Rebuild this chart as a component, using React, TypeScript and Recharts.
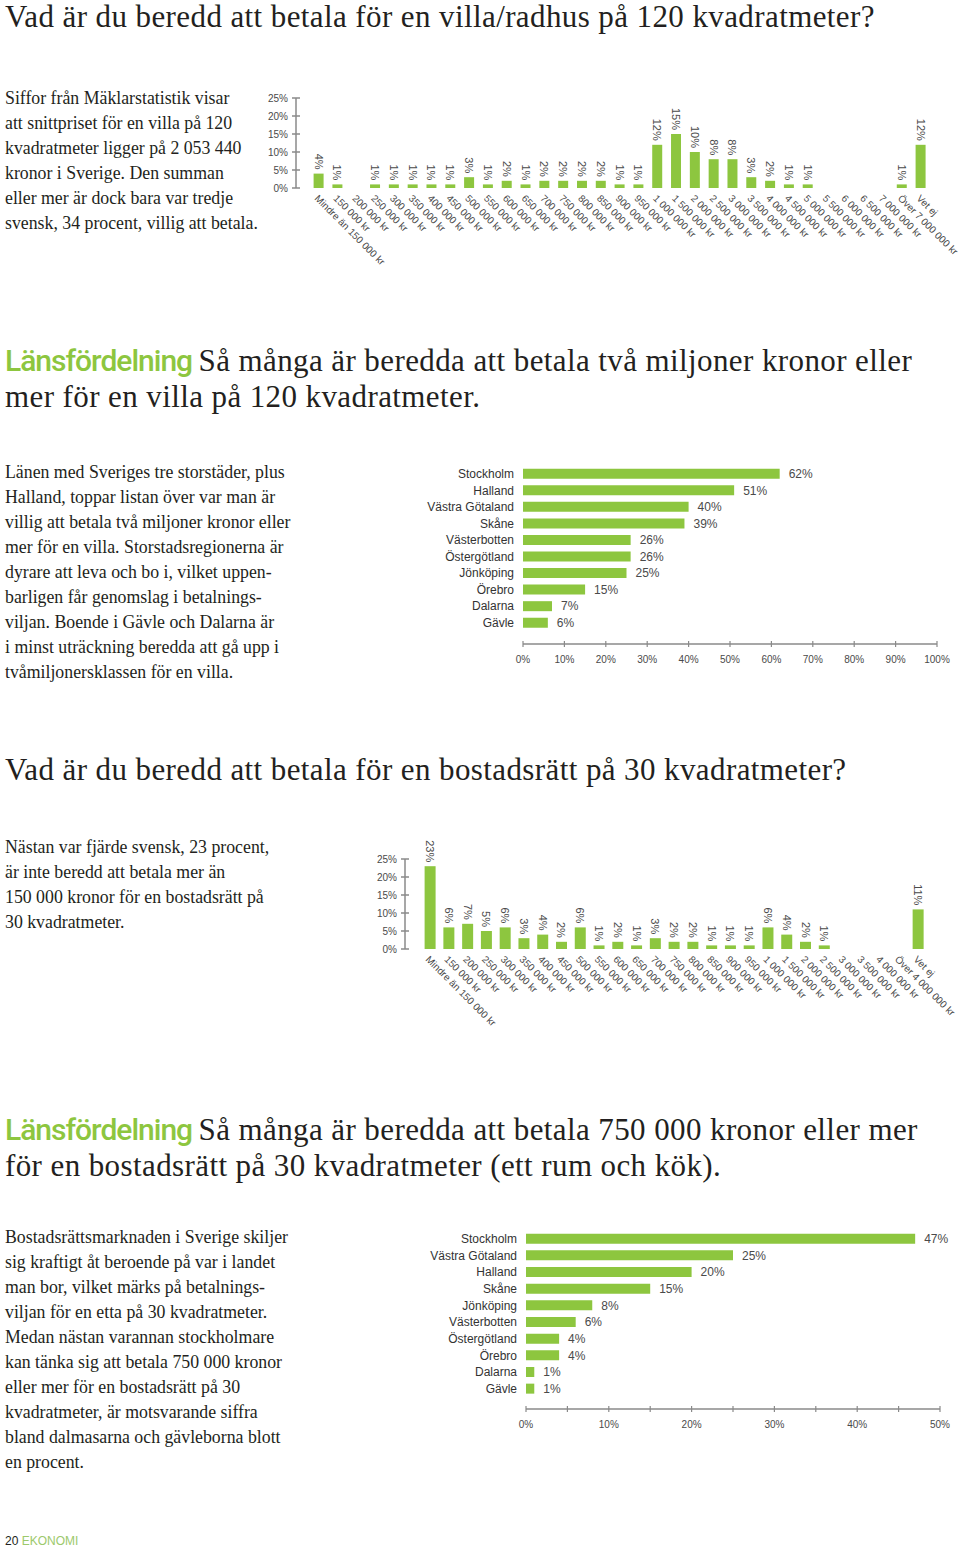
import React from 'react';
import { BarChart, Bar, XAxis, YAxis, LabelList } from 'recharts';

const GREEN = '#8dc63f';
const INK = '#231f20';
const AXIS = '#8a8a8a';
const LABEL = '#4a4a4a';
const SERIF = '"Liberation Serif", "DejaVu Serif", serif';
const SANS = '"Liberation Sans", Arial, sans-serif';

// Villa/radhus 120 kvm: vad man är beredd att betala
const villaPrices = [
  'Mindre än 150 000 kr', '150 000 kr', '200 000 kr', '250 000 kr', '300 000 kr',
  '350 000 kr', '400 000 kr', '450 000 kr', '500 000 kr', '550 000 kr',
  '600 000 kr', '650 000 kr', '700 000 kr', '750 000 kr', '800 000 kr',
  '850 000 kr', '900 000 kr', '950 000 kr', '1 000 000 kr', '1 500 000 kr',
  '2 000 000 kr', '2 500 000 kr', '3 000 000 kr', '3 500 000 kr', '4 000 000 kr',
  '4 500 000 kr', '5 000 000 kr', '5 500 000 kr', '6 000 000 kr', '6 500 000 kr',
  '7 000 000 kr', 'Över 7 000 000 kr', 'Vet ej',
];
const villaShares = [
  4, 1, 0, 1, 1, 1, 1, 1, 3, 1, 2, 1, 2, 2, 2, 2, 1, 1, 12, 15, 10, 8, 8, 3, 2, 1, 1, 0, 0, 0, 0, 1, 12,
];

// Bostadsrätt 30 kvm
const bostadPrices = [
  'Mindre än 150 000 kr', '150 000 kr', '200 000 kr', '250 000 kr', '300 000 kr',
  '350 000 kr', '400 000 kr', '450 000 kr', '500 000 kr', '550 000 kr',
  '600 000 kr', '650 000 kr', '700 000 kr', '750 000 kr', '800 000 kr',
  '850 000 kr', '900 000 kr', '950 000 kr', '1 000 000 kr', '1 500 000 kr',
  '2 000 000 kr', '2 500 000 kr', '3 000 000 kr', '3 500 000 kr', '4 000 000 kr',
  'Över 4 000 000 kr', 'Vet ej',
];
const bostadShares = [
  23, 6, 7, 5, 6, 3, 4, 2, 6, 1, 2, 1, 3, 2, 2, 1, 1, 1, 6, 4, 2, 1, 0, 0, 0, 0, 11,
];

const pctTicks = [0, 5, 10, 15, 20, 25];

// Länsfördelning villa (2 miljoner eller mer)
const villaRegions = [
  'Stockholm', 'Halland', 'Västra Götaland', 'Skåne', 'Västerbotten',
  'Östergötland', 'Jönköping', 'Örebro', 'Dalarna', 'Gävle',
];
const villaRegionShares = [62, 51, 40, 39, 26, 26, 25, 15, 7, 6];
const villaRegionTicks = [0, 10, 20, 30, 40, 50, 60, 70, 80, 90, 100];

// Länsfördelning bostadsrätt (750 000 eller mer)
const bostadRegions = [
  'Stockholm', 'Västra Götaland', 'Halland', 'Skåne', 'Jönköping',
  'Västerbotten', 'Östergötland', 'Örebro', 'Dalarna', 'Gävle',
];
const bostadRegionShares = [47, 25, 20, 15, 8, 6, 4, 4, 1, 1];
const bostadRegionTicks = [0, 5, 10, 15, 20, 25, 30, 35, 40, 45, 50];

const intro1 = [
  'Siffor från Mäklarstatistik visar',
  'att snittpriset för en villa på 120',
  'kvadratmeter ligger på 2 053 440',
  'kronor i Sverige. Den summan',
  'eller mer är dock bara var tredje',
  'svensk, 34 procent, villig att betala.',
];
const intro2 = [
  'Länen med Sveriges tre storstäder, plus',
  'Halland, toppar listan över var man är',
  'villig att betala två miljoner kronor eller',
  'mer för en villa. Storstadsregionerna är',
  'dyrare att leva och bo i, vilket uppen-',
  'barligen får genomslag i betalnings-',
  'viljan. Boende i Gävle och Dalarna är',
  'i minst uträckning beredda att gå upp i',
  'tvåmiljonersklassen för en villa.',
];
const intro3 = [
  'Nästan var fjärde svensk, 23 procent,',
  'är inte beredd att betala mer än',
  '150 000 kronor för en bostadsrätt på',
  '30 kvadratmeter.',
];
const intro4 = [
  'Bostadsrättsmarknaden i Sverige skiljer',
  'sig kraftigt åt beroende på var i landet',
  'man bor, vilket märks på betalnings-',
  'viljan för en etta på 30 kvadratmeter.',
  'Medan nästan varannan stockholmare',
  'kan tänka sig att betala 750 000 kronor',
  'eller mer för en bostadsrätt på 30',
  'kvadratmeter, är motsvarande siffra',
  'bland dalmasarna och gävleborna blott',
  'en procent.',
];

function Lines({ lines, top, left = 5, size = 17.8, lh = 25 }: any) {
  return (
    <div style={{ position: 'absolute', top, left, fontFamily: SERIF, fontSize: size, lineHeight: `${lh}px`, color: INK, whiteSpace: 'nowrap' }}>
      {lines.map((l: string, i: number) => <div key={i}>{l}</div>)}
    </div>
  );
}

function Heading({ lead, lines, top }: any) {
  return (
    <div style={{ position: 'absolute', top, left: 5, fontFamily: SERIF, fontSize: 31, letterSpacing: 0.4, lineHeight: '36px', color: INK, whiteSpace: 'nowrap' }}>
      {lines.map((l: string, i: number) => (
        <div key={i}>
          {i === 0 && lead ? (
            <span style={{ fontFamily: 'Roboto, sans-serif', fontWeight: 500, fontSize: 30, letterSpacing: -1, color: GREEN }}>{lead} </span>
          ) : null}
          {l}
        </div>
      ))}
    </div>
  );
}

// rotated category label under the vertical bars
const priceTick = (props: any) => {
  const { x, y, payload } = props;
  const tx = x - 5;
  const ty = y + 11;
  return (
    <text x={tx} y={ty} transform={`rotate(45, ${tx}, ${ty})`} textAnchor="start" fontSize={10} fontFamily={SANS} fill={LABEL}>
      {payload.value}
    </text>
  );
};

// y-axis tick: mark that crosses the axis line + label
const pctTick = (props: any) => {
  const { x, y, payload } = props;
  return (
    <g>
      <line x1={x + 4} x2={x + 12} y1={y} y2={y} stroke={AXIS} strokeWidth={1.5} />
      <text x={x} y={y} textAnchor="end" dominantBaseline="central" fontSize={10} fontFamily={SANS} fill={LABEL}>
        {payload.value}%
      </text>
    </g>
  );
};

const verticalValue = (props: any) => {
  const { x, y, width, value } = props;
  const cx = Number(x) + Number(width) / 2;
  const ty = Number(y) - 4;
  return (
    <text x={cx} y={ty} transform={`rotate(90, ${cx}, ${ty})`} textAnchor="end" dominantBaseline="central" fontSize={11} fontFamily={SANS} fill={LABEL}>
      {value}%
    </text>
  );
};

function PriceChart({ prices, shares, width, height, yw, top, right, xh, padLeft, barSize }: any) {
  const data = prices.map((p: string, i: number) => ({ price: p, share: shares[i] }));
  return (
    <BarChart width={width} height={height} data={data} margin={{ top, right, bottom: 0, left: 0 }}>
      <XAxis dataKey="price" interval={0} axisLine={false} tickLine={false} tickSize={0} tickMargin={0} height={xh} padding={{ left: padLeft, right: 0 }} tick={priceTick} />
      <YAxis type="number" domain={[0, 25]} ticks={pctTicks} interval={0} width={yw} axisLine={{ stroke: AXIS, strokeWidth: 1.5 }} tickLine={false} tickSize={4} tickMargin={4} tick={pctTick} />
      <Bar dataKey="share" fill={GREEN} barSize={barSize} isAnimationActive={false}>
        <LabelList dataKey="share" content={verticalValue} />
      </Bar>
    </BarChart>
  );
}

const shareTick = (props: any) => {
  const { x, y, payload } = props;
  const labelled = payload.value % 10 === 0;
  return (
    <g>
      <line x1={x} x2={x} y1={y - 3} y2={y + 3} stroke={AXIS} strokeWidth={1.2} />
      {labelled ? (
        <text x={x} y={y + 19} textAnchor="middle" fontSize={10} fontFamily={SANS} fill={LABEL}>
          {payload.value}%
        </text>
      ) : null}
    </g>
  );
};

const regionTick = (props: any) => {
  const { x, y, payload } = props;
  return (
    <text x={x} y={y} textAnchor="end" dominantBaseline="central" fontSize={12} fontFamily={SANS} fill="#333">
      {payload.value}
    </text>
  );
};

function RegionChart({ regions, shares, ticks, max, yw, right, padBottom }: any) {
  const data = regions.map((r: string, i: number) => ({ region: r, share: shares[i] }));
  return (
    <BarChart layout="vertical" width={540} height={220} data={data} margin={{ top: 10.7, right, bottom: 0, left: 0 }}>
      <XAxis type="number" domain={[0, max]} ticks={ticks} interval={0} height={31} axisLine={{ stroke: AXIS, strokeWidth: 1.5 }} tickLine={false} tickSize={0} tickMargin={0} tick={shareTick} />
      <YAxis type="category" dataKey="region" width={yw} interval={0} axisLine={false} tickLine={false} tickSize={0} tickMargin={9} padding={{ top: 0, bottom: padBottom }} tick={regionTick} />
      <Bar dataKey="share" fill={GREEN} barSize={10} isAnimationActive={false}>
        <LabelList dataKey="share" position="right" offset={9} formatter={(v: any) => `${v}%`} style={{ fontSize: 12, fontFamily: SANS, fill: LABEL }} />
      </Bar>
    </BarChart>
  );
}

export default function App() {
  return (
    <div style={{ position: 'absolute', left: 0, top: 0, width: 960, height: 1550, background: '#fff', overflow: 'hidden' }}>
      <Heading lines={['Vad är du beredd att betala för en villa/radhus på 120 kvadratmeter?']} top={-1} />
      <Lines lines={intro1} top={86} />
      <div style={{ position: 'absolute', left: 240, top: 80 }}>
        <PriceChart prices={villaPrices} shares={villaShares} width={720} height={200} yw={56} top={18} right={29.6} xh={92} padLeft={13.6} barSize={10} />
      </div>

      <Heading lead="Länsfördelning" lines={['Så många är beredda att betala två miljoner kronor eller', 'mer för en villa på 120 kvadratmeter.']} top={343} />
      <Lines lines={intro2} top={460} />
      <div style={{ position: 'absolute', left: 420, top: 455 }}>
        <RegionChart regions={villaRegions} shares={villaRegionShares} ticks={villaRegionTicks} max={100} yw={103} right={23} padBottom={12.7} />
      </div>

      <Heading lines={['Vad är du beredd att betala för en bostadsrätt på 30 kvadratmeter?']} top={752} />
      <Lines lines={intro3} top={835} />
      <div style={{ position: 'absolute', left: 340, top: 835 }}>
        <PriceChart prices={bostadPrices} shares={bostadShares} width={620} height={200} yw={65} top={24} right={32.6} xh={86} padLeft={15.6} barSize={11} />
      </div>

      <Heading lead="Länsfördelning" lines={['Så många är beredda att betala 750 000 kronor eller mer', 'för en bostadsrätt på 30 kvadratmeter (ett rum och kök).']} top={1112} />
      <Lines lines={intro4} top={1225} />
      <div style={{ position: 'absolute', left: 420, top: 1220 }}>
        <RegionChart regions={bostadRegions} shares={bostadRegionShares} ticks={bostadRegionTicks} max={50} yw={106} right={20} padBottom={11.7} />
      </div>

      <div style={{ position: 'absolute', left: 5, top: 1533, fontFamily: SANS, fontSize: 12, lineHeight: '16px', whiteSpace: 'nowrap' }}>
        <span style={{ color: INK }}>20 </span>
        <span style={{ color: '#9cc96b' }}>EKONOMI</span>
      </div>
    </div>
  );
}
